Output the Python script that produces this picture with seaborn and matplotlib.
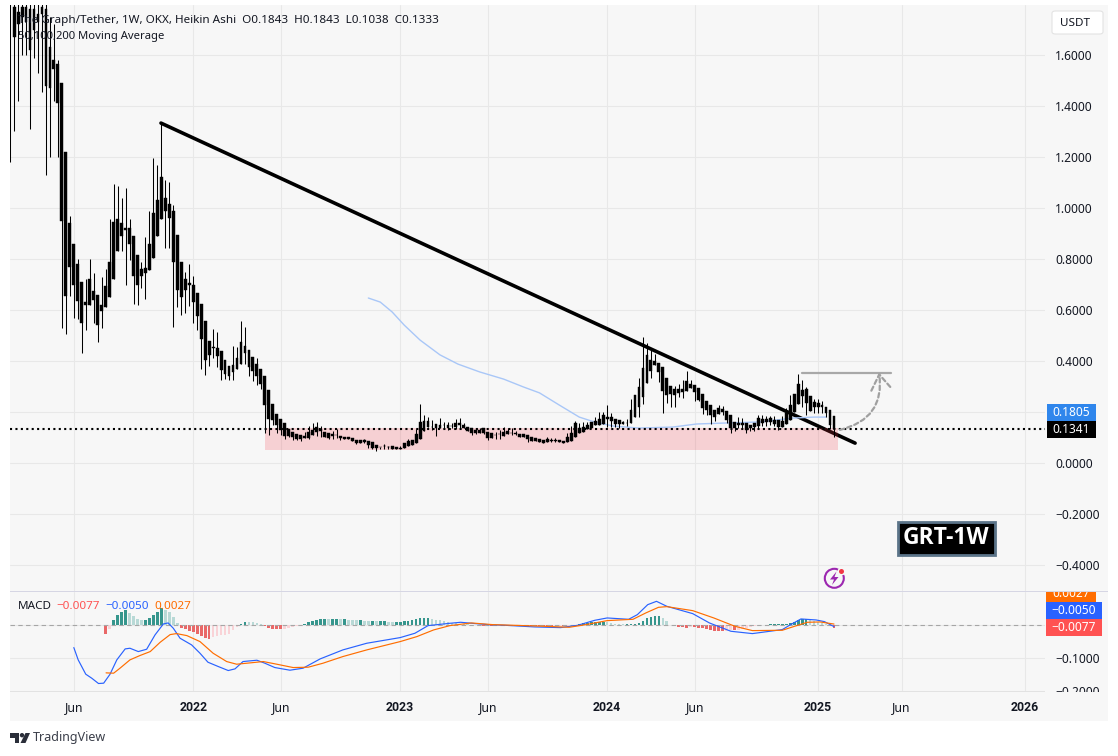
import numpy as np
import pandas as pd
import matplotlib
matplotlib.use("Agg")
import matplotlib.pyplot as plt
from matplotlib.patches import Rectangle, Circle, Polygon, FancyBboxPatch
from matplotlib.transforms import Bbox
import seaborn as sns

# ====== weekly heikin ashi candles ======
body_top = [
    1.85, 1.79, 1.77, 1.79, 1.79, 1.78, 1.78, 1.76, 1.79, 1.78, 1.63, 1.58, 1.565, 1.49, 1.22,
    .94, .86, .78, .71, .63, .72, .675, .66, .62, .695, .79, .945, .955, .94, .92, .92, .89, .815, .76, .765,
    .86, .98, 1.03, 1.12, 1.04, 1.015, .99, .895, .79, .72, .705, .70, .665, .625, .555, .48, .455, .45, .44,
    .405, .38, .385, .41, .475, .46, .445, .415, .39, .37, .34, .286, .231, .192, .173, .157, .133, .122, .114,
    .11, .106, .122, .129, .141, .133, .122, .118, .114, .11, .106, .102, .102, .098, .09, .09, .09, .086, .082,
    .071, .064, .068, .064, .067, .063, .059, .078, .086, .09, .114, .161, .165, .165, .142, .153, .149, .15,
    .149, .146, .157, .157, .149, .141, .137, .129, .129, .137, .122, .118, .11, .115, .122, .125, .119, .118,
    .114, .114, .11, .102, .098, .094, .09, .094, .09, .09, .09, .086, .102, .118, .157, .137, .141, .149, .161,
    .165, .173, .188, .18, .18, .173, .169, .161, .158, .208, .267, .298, .373, .424, .404, .40, .392, .376,
    .333, .302, .29, .29, .29, .322, .31, .306, .294, .271, .243, .227, .208, .216, .212, .204, .188, .161, .157,
    .157, .157, .149, .157, .176, .173, .173, .176, .169, .169, .165, .196, .227, .271, .31, .286, .29, .263,
    .239, .235, .227, .22, .208, .1843,
]
body_bottom = [
    1.82, 1.67, 1.72, 1.75, 1.73, 1.62, 1.70, 1.73, 1.76, 1.48, 1.47, 1.545, 1.41, .95, .655,
    .77, .70, .635, .55, .62, .62, .64, .54, .595, .61, .65, .72, .83, .89, .915, .86, .735, .70, .735, .745,
    .755, .805, .89, .955, .99, .96, .79, .68, .65, .68, .70, .63, .575, .485, .405, .425, .45, .42, .365,
    .35, .34, .355, .37, .39, .43, .375, .36, .34, .31, .227, .173, .169, .149, .129, .106, .106, .102, .094,
    .094, .098, .098, .11, .122, .125, .102, .098, .106, .108, .098, .094, .094, .086, .078, .078, .082, .071, .059,
    .059, .062, .066, .062, .055, .055, .055, .059, .067, .071, .078, .094, .125, .141, .14, .137, .137, .148,
    .137, .144, .141, .149, .137, .125, .118, .118, .118, .118, .098, .098, .108, .113, .106, .114, .117, .114,
    .102, .102, .094, .086, .086, .082, .078, .082, .088, .088, .082, .078, .082, .086, .102, .118, .122, .133, .137,
    .149, .149, .153, .173, .165, .153, .153, .153, .156, .157, .18, .22, .259, .314, .361, .384, .357, .282,
    .267, .271, .267, .275, .278, .282, .294, .278, .247, .216, .208, .188, .18, .192, .20, .169, .137, .137, .149,
    .149, .129, .137, .141, .145, .157, .161, .161, .153, .141, .141, .153, .169, .20, .231, .263, .235, .204,
    .22, .22, .22, .196, .149, .1333,
]
wick_high = [
    1.90, 1.85, 1.85, 1.85, 1.85, 1.85, 1.85, 1.85, 1.85, 1.82, 1.75, 1.72, 1.58, 1.49, 1.22,
    .97, .86, .80, .71, .72, .80, .745, .66, .73, .76, .955, 1.095, 1.085, 1.04, 1.08, .955, .89, .815, .79, .885,
    .99, 1.195, 1.17, 1.335, 1.11, 1.10, 1.01, .895, .79, .75, .78, .735, .665, .625, .555, .48, .525, .515, .44,
    .405, .38, .46, .455, .555, .535, .445, .415, .41, .37, .34, .286, .231, .192, .173, .157, .133, .122, .114,
    .11, .122, .145, .157, .161, .145, .122, .118, .125, .133, .106, .102, .102, .098, .09, .09, .094, .086, .082,
    .071, .064, .075, .067, .067, .063, .067, .078, .094, .09, .133, .231, .188, .18, .169, .153, .176, .161,
    .161, .157, .173, .176, .157, .141, .137, .129, .137, .137, .122, .118, .122, .129, .141, .137, .137, .125,
    .114, .114, .11, .102, .098, .094, .09, .102, .098, .098, .09, .086, .118, .145, .165, .157, .161, .161, .161,
    .18, .20, .20, .227, .196, .173, .169, .165, .173, .251, .267, .333, .494, .471, .451, .427, .392, .376,
    .333, .302, .302, .31, .325, .361, .325, .306, .294, .271, .243, .227, .208, .227, .224, .204, .188, .161, .18,
    .176, .157, .149, .157, .188, .188, .184, .184, .184, .169, .184, .216, .267, .271, .349, .325, .298, .263,
    .251, .251, .243, .22, .208, .1843,
]
wick_low = [
    1.18, 1.30, 1.42, 1.60, 1.60, 1.31, 1.59, 1.53, 1.455, 1.13, 1.20, 1.42, 1.20, .53, .505,
    .655, .57, .565, .43, .52, .62, .55, .475, .53, .61, .65, .72, .83, .83, .70, .795, .625, .62, .685, .645,
    .755, .805, .89, .955, .845, .845, .535, .61, .58, .59, .615, .55, .52, .37, .345, .38, .41, .375, .325,
    .33, .325, .325, .37, .39, .39, .34, .32, .305, .29, .118, .11, .15, .118, .11, .094, .102, .09, .09,
    .086, .098, .094, .11, .106, .102, .102, .094, .094, .098, .09, .094, .094, .086, .075, .078, .078, .059, .055,
    .047, .055, .055, .055, .055, .055, .055, .059, .067, .071, .078, .094, .125, .141, .129, .106, .137, .137,
    .13, .137, .133, .133, .137, .125, .11, .114, .118, .114, .09, .098, .094, .094, .106, .114, .11, .11,
    .102, .102, .082, .086, .086, .082, .078, .082, .082, .082, .082, .078, .082, .086, .102, .118, .122, .133, .137,
    .149, .149, .153, .141, .141, .141, .137, .153, .145, .157, .18, .18, .231, .314, .333, .384, .318, .196,
    .235, .22, .22, .259, .255, .282, .294, .243, .243, .192, .188, .153, .165, .192, .188, .157, .118, .125, .137,
    .137, .118, .125, .125, .137, .145, .145, .149, .145, .129, .141, .153, .169, .20, .231, .22, .188, .204,
    .196, .196, .196, .18, .133, .1038,
]

# 200 week moving average (weeks counted back from the last candle)
ma_weeks = [-117, -114, -111, -108, -104, -99, -94.5, -89, -83, -78, -74, -69, -64, -61, -59, -55.5,
            -49, -40.5, -34.5, -27, -18.5, -10.5, -5, -2]
ma_values = [.647, .631, .592, .541, .482, .424, .388, .357, .329, .298, .275, .227, .18, .165, .157, .145,
             .137, .141, .153, .157, .161, .176, .18, .18]

# MACD pane
macd_weeks = [-191, -189.9, -188, -186.5, -184.8, -183.5, -181.9, -180.2, -178.1, -176.9, -174.8, -172.7,
              -170.6, -168.5, -167.3, -166, -164.3, -161.4, -159.3, -157.3, -154.7, -152.2, -150.5, -148.5,
              -145, -143, -140.5, -136.7, -133.4, -129.1, -123.4, -117.4, -109, -105.3, -102, -96.5,
              -93.8, -90.1, -86.9, -82.6, -75.2, -68.7, -64.4, -60.1, -57, -51.6, -49.4, -46.8, -44.6, -42,
              -35.5, -31.3, -25.9, -20.5, -13, -10.9, -8.3, -4.5, -2.4, 0]
macd_values = [-.068, -.105, -.148, -.16, -.176, -.175, -.148, -.105, -.072, -.07, -.08, -.073,
               -.03, .003, .006, -.01, -.04, -.06, -.085, -.112, -.125, -.137, -.132, -.11,
               -.106, -.115, -.128, -.136, -.13, -.102, -.075, -.055, -.038, -.025, -.002, .005,
               .008, .004, .001, -.001, -.006, -.008, -.001, .014, .021, .017, .031, .061, .071, .056,
               .034, .006, -.019, -.026, -.014, .001, .018, .015, .01, -.005]
signal_weeks = [-182.9, -181, -179.4, -176.9, -174.4, -171.8, -169.3, -166.8, -165.2, -162.6, -159.3, -156,
                -152.6, -150.1, -146.7, -143.4, -140, -135.9, -132.1, -128.4, -123.4, -117.4, -109, -104.8,
                -100.6, -96.5, -91.1, -85.8, -80.4, -73, -66.5, -62.3, -57, -50.5, -47.3, -44.1, -42,
                -35.5, -30.2, -24.9, -20.5, -13, -9.9, -6.7, -3.5, 0]
signal_values = [-.144, -.145, -.13, -.105, -.092, -.08, -.052, -.029, -.026, -.032, -.05, -.085,
                 -.11, -.118, -.114, -.11, -.118, -.128, -.127, -.115, -.095, -.075, -.05, -.035,
                 -.015, -.002, .006, .001, -.001, -.004, -.007, .001, .013, .017, .036, .053, .055,
                 .043, .021, -.004, -.017, -.016, -.004, .008, .009, .0027]
hist_values = [
    -.027, -.012, .015, .03, .04, .045, .035, .027, .017, .015, .015, .022, .03, .04, .05, .045, .038, .025,
    .007, -.008, -.013, -.018, -.022, -.027, -.032, -.038, -.041, -.035, -.033, -.031, -.03, -.026, -.015,
    -.007, .003, .01, .009, .008, .007, .004, -.002, -.01, -.012, -.012, -.012, -.011, -.01, -.005, -.002, .0,
    .002, .008, .012, .015, .018, .019, .018, .018, .018, .017, .017, .016, .015, .014, .014, .013, .012,
    .012, .011, .011, .011, .009, .008, .008, .01, .012, .013, .014, .018, .02, .02, .021, .018, .016, .014,
    .012, .008,
    .006, .005, .004, .003, .002, .001, -.001,
    -.002, -.003, -.003, -.003, -.004, -.003, -.004, -.004, -.003, -.003,
    -.002, -.002, -.002, -.002, -.003, -.003, -.003, -.004, -.005, -.004, -.003, -.003, -.002, -.001,
    .001, .003, .005, .007, .008, .008, .009, .009,
    .008, .005, .004, .003, .002, .002, .002, .003,
    .006, .012, .02, .025, .028, .028, .022, .012,
    .001, -.004, -.006, -.006, -.008, -.006,
    -.006, -.008, -.01, -.012, -.015, -.017, -.019, -.019, -.018, -.016, -.016, -.014, -.012, -.008,
    -.006, -.004, -.002, -.001, .0, .002, .003, .003, .003, .004,
    .006, .01, .014, .019, .019, .017, .012, .008, .005, .002, -.002, -.0077,
]

# drawings on the chart
trend_weeks = [-169.1, 5.3]
trend_values = [1.333, .078]
last_price = .1341
zone_weeks = [-143, 1]
zone_values = [.05, .137]
target_weeks = [-8.1, 14.3]
target_value = .353
arc_start = (1.5, .13)
arc_end = (11.3, .355)

price_ticks = [-.4, -.2, 0, .2, .4, .6, .8, 1.0, 1.2, 1.4, 1.6]
macd_ticks = [-.2, -.1, 0]
month_weeks = [-191, -161, -139, -109, -87, -57, -35, -4, 17, 48]
month_labels = ["Jun", "2022", "Jun", "2023", "Jun", "2024", "Jun", "2025", "Jun", "2026"]

W, H = 1118, 756
BG = "#f7f7f7"
GRID = "#e8e8e8"
INK = "#131722"
BAR_PX = 3.98
LAST_PX = 834

sns.set_theme(style="white")
plt.rcParams["font.family"] = ["Noto Sans", "DejaVu Sans"]


def px_axes(fig, left, top, right, bottom):
    ax = fig.add_axes([left / W, 1 - bottom / H, (right - left) / W, (bottom - top) / H])
    ax.set_facecolor("none")
    for s in ax.spines.values():
        s.set_visible(False)
    ax.set_xlim((left - LAST_PX) / BAR_PX, (right - LAST_PX) / BAR_PX)
    ax.set_axisbelow(True)
    ax.grid(True, color=GRID, linewidth=0.75)
    ax.yaxis.tick_right()
    ax.tick_params(axis="both", length=0, colors=INK)
    return ax


def px_rect(fig, x0, y0, x1, y1, **kw):
    r = Rectangle((x0 / W, 1 - y1 / H), (x1 - x0) / W, (y1 - y0) / H, transform=fig.transFigure, **kw)
    fig.add_artist(r)
    return r


def px_text(fig, x, y, s, **kw):
    kw.setdefault("va", "center")
    kw.setdefault("color", INK)
    kw.setdefault("fontsize", 8.4)
    return fig.text(x / W, 1 - y / H, s, **kw)


def px_poly(fig, pts, **kw):
    p = Polygon([(x / W, 1 - y / H) for x, y in pts], transform=fig.transFigure, **kw)
    fig.add_artist(p)


def px_circle(fig, x, y, r, **kw):
    c = Circle((x, H - y), r, transform=None, **kw)
    fig.add_artist(c)


def tag(fig, x0, y0, x1, y1, color, label, clip_top=None):
    px_rect(fig, x0, max(y0, clip_top or y0), x1, y1, facecolor=color, edgecolor="none", zorder=5)
    t = px_text(fig, (x0 + x1) / 2, (y0 + y1) / 2, label, color="white", ha="center", fontsize=8.6, zorder=6)
    if clip_top:
        t.set_clip_box(Bbox([[x0, H - y1], [x1, H - clip_top]]))
        t.set_clip_on(True)


def hist_tone(values):
    tones = []
    for i, v in enumerate(values):
        prev = values[i - 1] if i else v
        if v >= 0:
            tones.append("up_strong" if v >= prev else "up_weak")
        else:
            tones.append("down_strong" if v <= prev else "down_weak")
    return tones


candles = pd.DataFrame({
    "top": body_top, "bottom": body_bottom, "high": wick_high, "low": wick_low,
})
candles["week"] = np.arange(len(candles)) - (len(candles) - 1)
hist = pd.DataFrame({"hist": hist_values})
hist["week"] = np.arange(len(hist)) - (len(hist) - 1)
hist["tone"] = hist_tone(hist_values)

fig = plt.figure(figsize=(W / 100, H / 100), dpi=100, facecolor="white")
px_rect(fig, 10, 5, 1108, 721, facecolor=BG, edgecolor="none", zorder=-5)

# ====== price pane ======
ax = px_axes(fig, 10, 5, 1045, 591)
ax.set_ylim((463 - 591) / 255, (463 - 5) / 255)
ax.set_xticks(month_weeks)
ax.set_yticks(price_ticks)
ax.set_xticklabels([])
# the 0.2000 label sits behind the price tags on the original
ax.set_yticklabels(["" if v == .2 else f"{v:.4f}".replace("-", "\u2212") for v in price_ticks], fontsize=8.6)
ax.tick_params(axis="y", pad=7.5)

ax.plot(trend_weeks, trend_values, color="black", linewidth=2.6, solid_capstyle="round", zorder=3)
ax.fill_between(zone_weeks, zone_values[0], zone_values[1], color="#f23645", alpha=0.2, linewidth=0, zorder=4)
sns.lineplot(x=ma_weeks, y=ma_values, ax=ax, color="#a9c7f7", linewidth=1.0, zorder=4.5, errorbar=None)
ax.vlines(candles["week"], candles["low"], candles["high"], color="black", linewidth=0.75, zorder=5)
ax.bar(candles["week"], candles["top"] - candles["bottom"], bottom=candles["bottom"], width=0.72,
       color="black", edgecolor="black", linewidth=0.3, zorder=5)
ax.axhline(last_price, color="black", linewidth=1.5, linestyle=(0, (1, 1.6)), zorder=6)
ax.plot(target_weeks, [target_value] * 2, color="#a8a8a8", linewidth=1.6, zorder=6)
ax.annotate("", xy=arc_end, xytext=arc_start, zorder=6,
            arrowprops=dict(arrowstyle="->,head_width=0.6,head_length=0.9", connectionstyle="arc3,rad=0.45",
                            color="#a0a0a0", linewidth=1.6, linestyle=(0, (2, 1.4)), shrinkA=0, shrinkB=0))

# ====== MACD pane ======
ax2 = px_axes(fig, 10, 591.5, 1045, 691.5)
ax2.set_ylim((625 - 691.5) / 333.3, (625 - 591.5) / 333.3)
sns.barplot(data=hist, x="week", y="hist", hue="tone", ax=ax2, native_scale=True, dodge=False, legend=False,
            width=0.68, linewidth=0,
            palette={"up_strong": "#26a69a", "up_weak": "#b2dfdb", "down_strong": "#ff5252", "down_weak": "#ffcdd2"})
ax2.axhline(0, color="#a6a6a6", linewidth=0.8, linestyle=(0, (4, 3)), zorder=1.5)
sns.lineplot(x=macd_weeks, y=macd_values, ax=ax2, color="#2962ff", linewidth=0.85, errorbar=None, zorder=3)
sns.lineplot(x=signal_weeks, y=signal_values, ax=ax2, color="#ff6d00", linewidth=0.85, errorbar=None, zorder=3)
ax2.set_xlim((10 - LAST_PX) / BAR_PX, (1045 - LAST_PX) / BAR_PX)
ax2.set_xlabel("")
ax2.set_ylabel("")
ax2.set_yticks(macd_ticks)
ax2.set_yticklabels(["\u22120.2000", "\u22120.1000", ""], fontsize=8.6)
ax2.tick_params(axis="y", pad=7.5)
for lab in ax2.get_yticklabels():
    lab.set_clip_box(Bbox([[1040, H - 691.5], [1108, H - 591]]))
    lab.set_clip_on(True)
ax2.set_xticks(month_weeks)
ax2.set_xticklabels(month_labels, fontsize=8.8)
ax2.tick_params(axis="x", pad=7)
for lab, name in zip(ax2.get_xticklabels(), month_labels):
    if name != "Jun":
        lab.set_family("Roboto")
        lab.set_fontweight("bold")

# pane borders
px_rect(fig, 10, 590.5, 1108, 592, facecolor="#d6d6e4", edgecolor="none", zorder=2)
px_rect(fig, 10, 691, 1045, 692, facecolor="#e2e2e2", edgecolor="none", zorder=2)

# ====== legends and price tags ======
px_text(fig, 18, 20, "The Graph/Tether, 1W, OKX, Heikin Ashi  O0.1843  H0.1843  L0.1038  C0.1333", zorder=8)
px_text(fig, 18, 37, "50,100,200 Moving Average", fontsize=8.1, zorder=8)
px_text(fig, 18, 606.5, "MACD", zorder=8)
px_text(fig, 56, 606.5, "\u22120.0077", color="#ff5252", zorder=8)
px_text(fig, 105, 606.5, "\u22120.0050", color="#2962ff", zorder=8)
px_text(fig, 154, 606.5, "0.0027", color="#ff6d00", zorder=8)

tag(fig, 1047, 404, 1096, 421, "#2f86ec", "0.1805")
tag(fig, 1047, 421, 1096, 438, "black", "0.1341")
tag(fig, 1046, 585, 1096, 602, "#ff6d00", "0.0027", clip_top=592)
tag(fig, 1046, 602, 1102, 619, "#2962ff", "\u22120.0050")
tag(fig, 1046, 619, 1102, 636, "#ff5252", "\u22120.0077")

# USDT button
fig.add_artist(FancyBboxPatch(
    (1052 / W, 1 - 34 / H), 51 / W, 23 / H, boxstyle="round,pad=0,rounding_size=0.003",
    transform=fig.transFigure, facecolor="white", edgecolor="#e3e3e3", linewidth=0.8, zorder=5))
px_text(fig, 1060, 23, "USDT", zorder=6)

# GRT-1W label
px_rect(fig, 897.5, 521.5, 995, 555, facecolor="black", edgecolor="#5b7489", linewidth=2, zorder=6)
px_text(fig, 946, 538, "GRT-1W", color="white", ha="center", fontsize=16.5, fontweight="bold",
        family="Open Sans", zorder=7)

# purple flash badge
px_circle(fig, 834.3, 578.3, 9.5, facecolor="none", edgecolor="#9c27b0", linewidth=1.5, zorder=6)
px_poly(fig, [(836.5, 571.5), (830, 579.5), (834, 579.5), (832, 585), (838.5, 577), (834.5, 577)],
        facecolor="#9c27b0", edgecolor="none", zorder=6)
px_circle(fig, 841.5, 571.5, 4, facecolor=BG, edgecolor="none", zorder=7)
px_circle(fig, 841.5, 571.5, 2.5, facecolor="#f23645", edgecolor="none", zorder=8)

# TradingView mark
px_poly(fig, [(10, 733), (19, 733), (19, 743), (15, 743), (15, 737.5), (10, 737.5)],
        facecolor="#2a2e39", edgecolor="none", zorder=6)
px_circle(fig, 22, 735.2, 2.2, facecolor="#2a2e39", edgecolor="none", zorder=6)
px_poly(fig, [(25.5, 733), (30, 733), (25.5, 743), (20.5, 743)], facecolor="#2a2e39", edgecolor="none", zorder=6)
px_text(fig, 33, 738, "TradingView", color="#3b3f4a", fontsize=9, zorder=6)

fig.savefig("out.png", dpi=100)
